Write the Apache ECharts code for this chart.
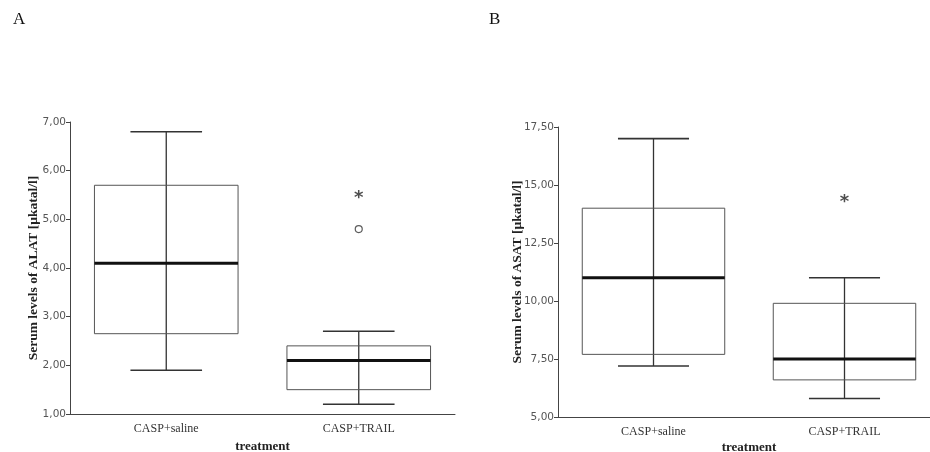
<!DOCTYPE html>
<html>
<head>
<meta charset="utf-8">
<script src="https://cdn.jsdelivr.net/npm/echarts@6/dist/echarts.min.js"></script>
<style>
  html, body { margin: 0; padding: 0; background: #fff; }
  #chart { width: 930px; height: 452px; }
</style>
</head>
<body>
<div id="chart"></div>
<script>
// categories
const categories = ['CASP+saline', 'CASP+TRAIL']

// [low whisker, Q1, median, Q3, high whisker]
const alatBoxes = [[1.9, 2.65, 4.1, 5.7, 6.8], [1.2, 1.5, 2.1, 2.4, 2.7]]
const alatOutliers = [[1, 4.8]]
const alatExtremes = [[1, 5.5]]

const asatBoxes = [[7.2, 7.7, 11.0, 14.0, 17.0], [5.8, 6.6, 7.5, 9.9, 11.0]]
const asatOutliers = []
const asatExtremes = [[1, 14.4]]

const alatTicks = { min: 1, max: 7, interval: 1 }
const asatTicks = { min: 5, max: 17.5, interval: 2.5 }

const axisColor = '#444'
const serif = '"Liberation Serif", "DejaVu Serif", serif'

// draw a SPSS-like box: box, whiskers with short caps, thick median
function renderBox(params, api) {
  const idx = api.value(0)
  const low = api.coord([idx, api.value(1)])
  const q1 = api.coord([idx, api.value(2)])
  const med = api.coord([idx, api.value(3)])
  const q3 = api.coord([idx, api.value(4)])
  const high = api.coord([idx, api.value(5)])
  const band = api.size([1, 0])[0]
  const bw = band * 0.746
  const cw = band * 0.372
  const cx = low[0]
  const thin = { stroke: '#333', lineWidth: 1.3 }
  return {
    type: 'group',
    children: [
      { type: 'line', shape: { x1: cx, y1: high[1], x2: cx, y2: low[1] }, style: thin },
      { type: 'rect', shape: { x: cx - bw / 2, y: q3[1], width: bw, height: q1[1] - q3[1] },
        style: { fill: 'rgba(0,0,0,0)', stroke: '#555', lineWidth: 1 } },
      { type: 'line', shape: { x1: cx - cw / 2, y1: high[1], x2: cx + cw / 2, y2: high[1] }, style: { stroke: '#333', lineWidth: 1.6 } },
      { type: 'line', shape: { x1: cx - cw / 2, y1: low[1], x2: cx + cw / 2, y2: low[1] }, style: { stroke: '#333', lineWidth: 1.6 } },
      { type: 'line', shape: { x1: cx - bw / 2, y1: med[1], x2: cx + bw / 2, y2: med[1] }, style: { stroke: '#111', lineWidth: 3 } }
    ]
  }
}

const fmt = v => v.toFixed(2).replace('.', ',')

function xAxisOf(gridIndex, gap) {
  return {
    type: 'category',
    gridIndex: gridIndex,
    data: categories,
    name: 'treatment',
    nameLocation: 'middle',
    nameGap: gap,
    nameMoveOverlap: false,
    nameTextStyle: { fontFamily: serif, fontWeight: 'bold', fontSize: 13, color: '#222' },
    axisLine: { lineStyle: { color: axisColor, width: 1 } },
    axisTick: { alignWithLabel: true, length: 5, lineStyle: { color: axisColor } },
    axisLabel: { fontFamily: serif, fontSize: 12, color: '#333', margin: 9 },
    splitLine: { show: false }
  }
}

function yAxisOf(gridIndex, ticks, name, gap) {
  return {
    type: 'value',
    gridIndex: gridIndex,
    min: ticks.min,
    max: ticks.max,
    interval: ticks.interval,
    name: name,
    nameLocation: 'middle',
    nameGap: gap,
    nameMoveOverlap: false,
    nameTextStyle: { fontFamily: serif, fontWeight: 'bold', fontSize: 13.5, color: '#222' },
    axisLine: { show: true, lineStyle: { color: axisColor, width: 1 } },
    axisTick: { show: true, length: 4, lineStyle: { color: axisColor } },
    axisLabel: { formatter: fmt, fontFamily: '"DejaVu Sans", sans-serif', fontSize: 10.5, color: '#555', margin: 4 },
    splitLine: { show: false }
  }
}

function boxData(boxes) {
  return boxes.map((b, i) => [i].concat(b))
}

const chart = echarts.init(document.getElementById('chart'))
chart.setOption({
  animation: false,
  backgroundColor: '#fff',
  title: [
    { text: 'A', left: 8, top: 6, textStyle: { fontFamily: serif, fontSize: 17, fontWeight: 'normal', color: '#111' } },
    { text: 'B', left: 484, top: 6, textStyle: { fontFamily: serif, fontSize: 17, fontWeight: 'normal', color: '#111' } }
  ],
  grid: [
    { left: 70, width: 385, top: 122, height: 292, outerBoundsMode: 'none', containLabel: false },
    { left: 558, width: 382, top: 127, height: 290, outerBoundsMode: 'none', containLabel: false }
  ],
  xAxis: [xAxisOf(0, 26), xAxisOf(1, 24)],
  yAxis: [
    yAxisOf(0, alatTicks, 'Serum levels of ALAT [µkatal/l]', 29),
    yAxisOf(1, asatTicks, 'Serum levels of ASAT [µkatal/l]', 33)
  ],
  series: [
    { type: 'custom', xAxisIndex: 0, yAxisIndex: 0, renderItem: renderBox, encode: { x: 0, y: [1, 2, 3, 4, 5] }, data: boxData(alatBoxes) },
    { type: 'custom', xAxisIndex: 1, yAxisIndex: 1, renderItem: renderBox, encode: { x: 0, y: [1, 2, 3, 4, 5] }, data: boxData(asatBoxes) },
    { type: 'scatter', xAxisIndex: 0, yAxisIndex: 0, symbol: 'circle', symbolSize: 7,
      itemStyle: { color: '#fff', borderColor: '#333', borderWidth: 1.2 }, data: alatOutliers },
    { type: 'scatter', xAxisIndex: 1, yAxisIndex: 1, symbol: 'circle', symbolSize: 7,
      itemStyle: { color: '#fff', borderColor: '#333', borderWidth: 1.2 }, data: asatOutliers },
    { type: 'scatter', xAxisIndex: 0, yAxisIndex: 0, symbolSize: 0, data: alatExtremes,
      label: { show: true, position: 'inside', formatter: '*', fontFamily: '"DejaVu Sans", sans-serif', fontSize: 18, fontWeight: 'bold', color: '#222', offset: [0, 3] } },
    { type: 'scatter', xAxisIndex: 1, yAxisIndex: 1, symbolSize: 0, data: asatExtremes,
      label: { show: true, position: 'inside', formatter: '*', fontFamily: '"DejaVu Sans", sans-serif', fontSize: 18, fontWeight: 'bold', color: '#222', offset: [0, 3] } }
  ]
})
</script>
</body>
</html>
